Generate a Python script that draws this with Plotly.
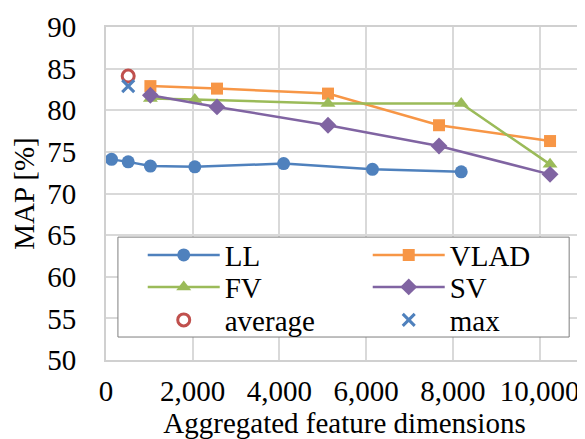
import plotly.graph_objects as go

# Data
ll_x = [128, 512, 1024, 2048, 4096, 6144, 8192]
ll_y = [74.1, 73.8, 73.3, 73.2, 73.6, 72.9, 72.6]
vlad_x = [1024, 2560, 5120, 7680, 10240]
vlad_y = [82.9, 82.6, 82.0, 78.2, 76.3]
fv_x = [1024, 2048, 5120, 8192, 10240]
fv_y = [81.4, 81.3, 80.8, 80.8, 73.5]
sv_x = [1024, 2560, 5120, 7680, 10240]
sv_y = [81.8, 80.4, 78.2, 75.7, 72.3]
avg_x = [512]
avg_y = [84.1]
max_x = [512]
max_y = [82.9]

BLUE = "#4f81bd"
ORANGE = "#f79646"
GREEN = "#9bbb59"
PURPLE = "#8064a2"
RED = "#c0504d"
FONT = "Times New Roman"
FS = 29
COL1 = 138  # legend entry width, left column
COL2 = 100  # legend entry width, right column

fig = go.Figure()
fig.add_trace(go.Scatter(x=ll_x, y=ll_y, name="LL", mode="lines+markers",
                         legend="legend", legendwidth=COL1,
                         line=dict(color=BLUE, width=2.5),
                         marker=dict(symbol="circle", size=13, color=BLUE)))
fig.add_trace(go.Scatter(x=vlad_x, y=vlad_y, name="VLAD", mode="lines+markers",
                         legend="legend", legendwidth=COL2,
                         line=dict(color=ORANGE, width=2.5),
                         marker=dict(symbol="square", size=12, color=ORANGE)))
fig.add_trace(go.Scatter(x=fv_x, y=fv_y, name="FV", mode="lines+markers",
                         legend="legend2", legendwidth=COL1,
                         line=dict(color=GREEN, width=2.5),
                         marker=dict(symbol="triangle-up", size=13, color=GREEN)))
fig.add_trace(go.Scatter(x=sv_x, y=sv_y, name="SV", mode="lines+markers",
                         legend="legend2", legendwidth=COL2,
                         line=dict(color=PURPLE, width=2.5),
                         marker=dict(symbol="diamond", size=13, color=PURPLE)))
fig.add_trace(go.Scatter(x=avg_x, y=avg_y, name="average", mode="markers",
                         legend="legend3", legendwidth=COL1,
                         marker=dict(symbol="circle-open", size=12, color=RED,
                                     line=dict(width=3, color=RED))))
fig.add_trace(go.Scatter(x=max_x, y=max_y, name="max", mode="markers",
                         legend="legend3", legendwidth=COL2,
                         marker=dict(symbol="x-thin", size=12, color=BLUE,
                                     line=dict(width=3, color=BLUE))))


def row_legend(yc):
    return dict(
        orientation="h",
        x=0.077, xanchor="left", y=yc, yanchor="middle",
        bgcolor="rgba(0,0,0,0)", borderwidth=0,
        font=dict(family=FONT, size=FS, color="black"),
        itemwidth=72, entrywidthmode="pixels",
        itemclick=False, itemdoubleclick=False,
    )


fig.update_layout(
    width=577, height=431,
    margin=dict(l=98, r=2, t=19, b=79, autoexpand=False),
    paper_bgcolor="white", plot_bgcolor="white",
    font=dict(family=FONT, size=FS, color="black"),
    showlegend=True,
    legend=row_legend(0.315),
    legend2=row_legend(0.219),
    legend3=row_legend(0.12),
    shapes=[dict(type="rect", xref="paper", yref="paper",
                 x0=0.025, x1=0.971, y0=0.069, y1=0.369,
                 line=dict(color="#7f7f7f", width=1),
                 fillcolor="white", layer="above")],
)
fig.update_xaxes(
    range=[0, 11000], dtick=2000, tick0=0, tickformat=",d",
    showgrid=True, gridcolor="#d9d9d9", gridwidth=2,
    showline=True, linecolor="#d0d0d0", linewidth=2, mirror=True,
    zeroline=False, ticks="", ticklabelstandoff=4, automargin=False,
    title=dict(text="Aggregated feature dimensions", standoff=22,
               font=dict(family=FONT, size=FS)),
)
fig.update_yaxes(
    range=[50, 90], dtick=5, tick0=50,
    showgrid=True, gridcolor="#d9d9d9", gridwidth=2,
    showline=True, linecolor="#d0d0d0", linewidth=2, mirror=True,
    zeroline=False, ticks="", ticklabelstandoff=22, automargin=False,
    title=dict(text="MAP [%]", standoff=12, font=dict(family=FONT, size=FS)),
)

fig.write_html("out.html")
